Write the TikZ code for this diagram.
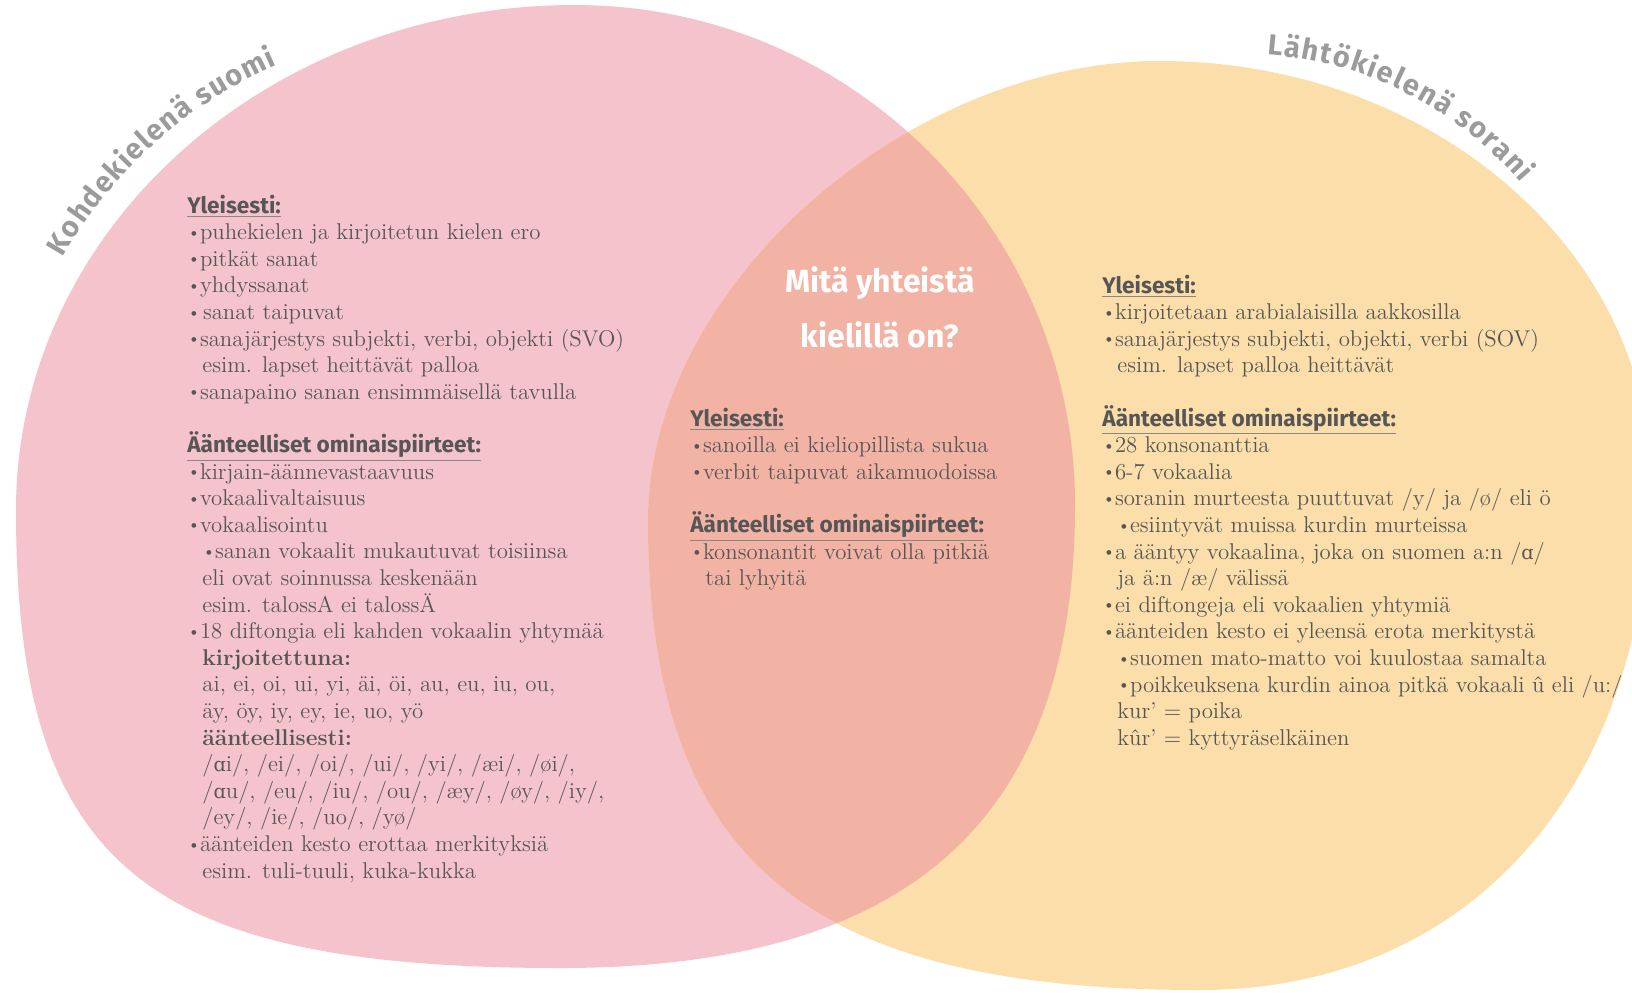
\documentclass[tikz,border=0pt]{standalone}
\usepackage{fontspec}
\newfontfamily\otsikkofont{Fira Sans}
\newfontfamily\ipafont{DejaVu Serif}
\usetikzlibrary{calc,decorations.text}
\definecolor{vaaleanpuna}{RGB}{245,195,204}
\definecolor{oranssi}{RGB}{251,222,170}
\definecolor{lohi}{RGB}{242,179,165}
\definecolor{teksti}{RGB}{86,86,86}
\definecolor{viiva}{RGB}{135,135,135}
\definecolor{nimiharmaa}{RGB}{155,155,155}
\newcommand\pallo{\makebox[6.3pt][l]{\raisebox{0.1em}{\fontsize{8pt}{8pt}\selectfont\textbullet}}}
\newcommand\sis{\hspace*{7.5pt}}
\newcommand\otsikko[1]{{\otsikkofont\bfseries\fontsize{11.3pt}{13.3pt}\selectfont
  \color{viiva}\underline{\textcolor{teksti}{#1}}}}
\newcommand\ipa[1]{{\ipafont\fontsize{9.6pt}{13.3pt}\selectfont #1}}
\newcommand\rivi[1]{\hbox{#1}}
\newcommand\nimifontti{\otsikkofont\bfseries\fontsize{14.5pt}{14pt}\selectfont}
\tikzset{
  leipa/.style={text=teksti,anchor=base west,inner sep=0pt,
    font=\fontsize{11.4pt}{13.3pt}\selectfont},
  kysymys/.style={text=white,anchor=base,inner sep=0pt,
    font=\otsikkofont\bfseries\fontsize{16pt}{16pt}\selectfont},
}
\begin{document}
\begin{tikzpicture}[x=0.5pt,y=-0.5pt]
\clip(0,0)rectangle(1632,992);
%kielten alueet
\path[save path=\suomialue](16,510)..controls(16,231)and(266,5)..(575,5)
  ..controls(851,5)and(1075,229)..(1075,505)
  ..controls(1075,820)and(910,968)..(560,968)
  ..controls(141,968)and(16,863)..(16,510)--cycle;
\path[save path=\soranialue](648,520)..controls(648,290)and(904,61)..(1160,61)
  ..controls(1430,61)and(1650,249)..(1650,480)
  ..controls(1650,786)and(1470,990)..(1200,990)
  ..controls(803,990)and(648,858)..(648,520)--cycle;
\fill[vaaleanpuna,use path=\suomialue];
\fill[oranssi,use path=\soranialue];
\begin{scope}
\clip[use path=\suomialue];
\fill[lohi,use path=\soranialue];
\end{scope}
%kaarevat nimet
\path[decorate,decoration={text along path,text align={fit to path},
  text color=nimiharmaa,text={|\nimifontti|Kohdekielenä suomi}}]
  ($(459,483)+(-150.3:456)$)arc[start angle=-150.3,end angle=-113.5,radius=456];
\path[decorate,decoration={text along path,text align={fit to path},
  text color=nimiharmaa,text={|\nimifontti|Lähtökielenä sorani}}]
  ($(1240,423.5)+(-85.8:370)$)arc[start angle=-85.8,end angle=-40.6,radius=370];
%kysymys
\node[kysymys](kysymys1)at(880,292){Mitä yhteistä};
\node[kysymys](kysymys2)at(880,347){kielillä on?};
%suomi
\node[leipa](vasen)at(187,213){\vtop{%
\rivi{\otsikko{Yleisesti:}}
\rivi{\pallo puhekielen ja kirjoitetun kielen ero}
\rivi{\pallo pitkät sanat}
\rivi{\pallo yhdyssanat}
\rivi{\pallo\hspace{1.5pt}sanat taipuvat}
\rivi{\pallo sanajärjestys subjekti, verbi, objekti (SVO)}
\rivi{\sis esim. lapset heittävät palloa}
\rivi{\pallo sanapaino sanan ensimmäisellä tavulla}
\rivi{}
\rivi{\otsikko{Äänteelliset ominaispiirteet:}}
\rivi{\pallo kirjain-äännevastaavuus}
\rivi{\pallo vokaalivaltaisuus}
\rivi{\pallo vokaalisointu}
\rivi{\sis\pallo sanan vokaalit mukautuvat toisiinsa}
\rivi{\sis eli ovat soinnussa keskenään}
\rivi{\sis esim. talossA ei talossÄ}
\rivi{\pallo 18 diftongia eli kahden vokaalin yhtymää}
\rivi{\sis\textbf{kirjoitettuna:}}
\rivi{\sis ai, ei, oi, ui, yi, äi, öi, au, eu, iu, ou,}
\rivi{\sis äy, öy, iy, ey, ie, uo, yö}
\rivi{\sis\textbf{äänteellisesti:}}
\rivi{\sis/\ipa{ɑ}i/, /ei/, /oi/, /ui/, /yi/, /æi/, /øi/,}
\rivi{\sis/\ipa{ɑ}u/, /eu/, /iu/, /ou/, /æy/, /øy/, /iy/,}
\rivi{\sis/ey/, /ie/, /uo/, /yø/}
\rivi{\pallo äänteiden kesto erottaa merkityksiä}
\rivi{\sis esim. tuli-tuuli, kuka-kukka}}};
%yhteiset
\node[leipa](keski)at(690,426){\vtop{%
\rivi{\otsikko{Yleisesti:}}
\rivi{\pallo sanoilla ei kieliopillista sukua}
\rivi{\pallo verbit taipuvat aikamuodoissa}
\rivi{}
\rivi{\otsikko{Äänteelliset ominaispiirteet:}}
\rivi{\pallo konsonantit voivat olla pitkiä}
\rivi{\sis tai lyhyitä}}};
%sorani
\node[leipa](oikea)at(1102,293){\vtop{%
\rivi{\otsikko{Yleisesti:}}
\rivi{\pallo kirjoitetaan arabialaisilla aakkosilla}
\rivi{\pallo sanajärjestys subjekti, objekti, verbi (SOV)}
\rivi{\sis esim. lapset palloa heittävät}
\rivi{}
\rivi{\otsikko{Äänteelliset ominaispiirteet:}}
\rivi{\pallo 28 konsonanttia}
\rivi{\pallo 6-7 vokaalia}
\rivi{\pallo soranin murteesta puuttuvat /y/ ja /ø/ eli ö}
\rivi{\sis\pallo esiintyvät muissa kurdin murteissa}
\rivi{\pallo a ääntyy vokaalina, joka on suomen a:n /\ipa{ɑ}/}
\rivi{\sis ja ä:n /æ/ välissä}
\rivi{\pallo ei diftongeja eli vokaalien yhtymiä}
\rivi{\pallo äänteiden kesto ei yleensä erota merkitystä}
\rivi{\sis\pallo suomen mato-matto voi kuulostaa samalta}
\rivi{\sis\pallo poikkeuksena kurdin ainoa pitkä vokaali û eli /u:/}
\rivi{\sis kur’ = poika}
\rivi{\sis kûr’ = kyttyräselkäinen}}};
\end{tikzpicture}
\end{document}
